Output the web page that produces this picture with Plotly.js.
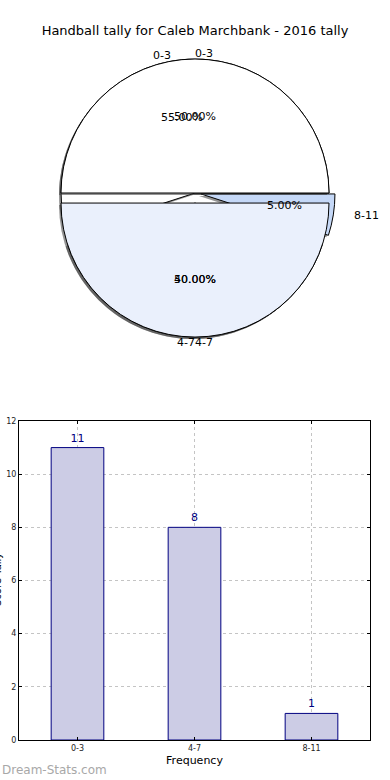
<!DOCTYPE html>
<html><head><meta charset="utf-8">
<script src="https://cdn.plot.ly/plotly-3.0.1.min.js"></script>
<style>html,body{margin:0;padding:0;background:#fff}#chart{width:390px;height:780px}</style>
</head><body><div id="chart"></div>
<script>
// ---- data ----
var categories = ['0-3', '4-7', '8-11'];
var tally = [11, 8, 1];
var catsB = ['0-3', '4-7'];
var tallyB = [10, 10];
var yTicks = [0, 2, 4, 6, 8, 10, 12];

var W = 390, H = 780, FONT = 'DejaVu Sans, Arial, sans-serif';
function sum(a){return a.reduce(function(s,v){return s+v;},0);}
// matplotlib-style start: first slice begins at 3 o'clock, counterclockwise
function rot(vals){return 90 - 360*vals[0]/sum(vals);}

// pie geometry (pixels)
var cx = 195, cy = 193, R = 134;     // drawn pie
var tRx = 141, tRy = 127;            // text placement radii
var pullA = [0, 0.075, 0.045], pullB = [0, 0.075];
function dom(pulls, dx, dy){
  var mp = Math.max.apply(null, pulls);
  var half = R*(1+mp);
  var x0 = cx+dx-half, x1 = cx+dx+half, y0 = cy+dy-half, y1 = cy+dy+half;
  return {x:[x0/W, x1/W], y:[1-y1/H, 1-y0/H]};
}
var colorsA = ['#ffffff', '#eaf0fc', '#c5d8f7'];
var colorsB = ['#ffffff', '#eaf0fc'];
var shadowCol = 'rgba(60,60,60,0.55)';
function grey(n){var a=[];for(var i=0;i<n;i++)a.push(shadowCol);return a;}

function pie(labels, vals, pulls, colors, opts){
  return {
    type:'pie', labels:labels, values:vals, pull:pulls, sort:false,
    direction:'counterclockwise', rotation:rot(vals), showlegend:false,
    hoverinfo:'skip', domain:dom(pulls, opts.dx||0, opts.dy||0),
    marker:{colors:colors, line:{color:'#000', width:opts.lw===undefined?1:opts.lw}},
    textinfo:'none'
  };
}

// text annotations placed like matplotlib's pie (labels at 1.1, pct at 0.6)
var annos = [];
function pieTexts(labels, vals, pulls, vertSide){
  var tot = sum(vals), t1 = 0;
  for(var i=0;i<vals.length;i++){
    var frac = vals[i]/tot, t2 = t1 + frac;
    var th = 2*Math.PI*0.5*(t1+t2);
    var c = Math.cos(th), s = Math.sin(th);
    var side = Math.abs(c) < 1e-9 ? vertSide(s) : (c > 0 ? 'left' : 'right');
    var ox = cx + pulls[i]*R*c, oy = cy - pulls[i]*R*s;
    annos.push({text:labels[i], xref:'paper', yref:'paper',
      x:(ox + 1.1*tRx*c)/W, y:1-(oy - 1.1*tRy*s)/H,
      xanchor: side, xshift: side === 'left' ? -2 : 2, yanchor:'middle', showarrow:false,
      font:{family:FONT, size:11, color:'#000'}});
    annos.push({text:(100*frac).toFixed(2)+'%', xref:'paper', yref:'paper',
      x:(ox + 0.6*tRx*c)/W, y:1-(oy - 0.6*tRy*s)/H,
      xanchor:'center', yanchor:'middle', showarrow:false,
      font:{family:FONT, size:11, color:'#000'}});
    t1 = t2;
  }
}
pieTexts(categories, tally, pullA, function(s){return 'left';});
pieTexts(catsB, tallyB, pullB, function(s){return s > 0 ? 'left' : 'right';});

var traces = [
  pie(categories, tally, pullA, grey(3), {dx:-2, dy:2, lw:0}),
  pie(categories, tally, pullA, colorsA, {}),
  pie(catsB, tallyB, pullB, grey(2), {dx:-2, dy:2, lw:0}),
  pie(catsB, tallyB, pullB, colorsB, {}),
  {
    type:'bar', x:categories, y:tally, width:0.45,
    marker:{color:'#ccccE5', line:{color:'#000080', width:1}},
    text:tally.map(String), textposition:'outside', cliponaxis:false,
    textfont:{family:FONT, size:11, color:'#000080'},
    hoverinfo:'skip', showlegend:false
  }
];

annos.push(
  {text:'Score Tally', textangle:-90, xref:'paper', yref:'paper', x:0, y:1-580/H,
   xanchor:'center', yanchor:'middle', xshift:-3, showarrow:false,
   font:{family:FONT, size:10, color:'#000'}},
  {text:'Dream-Stats.com', xref:'paper', yref:'paper', x:0, y:1-770/H,
   xanchor:'left', yanchor:'middle', showarrow:false,
   font:{family:FONT, size:12, color:'#a8a8a8'}}
);

var axCommon = {
  showline:true, linecolor:'#000', linewidth:1, mirror:'ticks',
  ticks:'inside', ticklen:3, tickcolor:'#000',
  showgrid:true, gridcolor:'#c4c4c4', griddash:'dot', gridwidth:1,
  zeroline:false, tickfont:{family:FONT, size:8, color:'#222'}
};
var layout = {
  width:W, height:H, margin:{l:0,r:0,t:0,b:0},
  paper_bgcolor:'#fff', plot_bgcolor:'#fff',
  font:{family:FONT},
  title:{text:'Handball tally for Caleb Marchbank - 2016 tally', x:0.5, xanchor:'center',
         y:1-30/H, yref:'container', yanchor:'middle', font:{family:FONT, size:13, color:'#000'}},
  xaxis:Object.assign({}, axCommon, {
    domain:[19/W, 370/W], anchor:'y', type:'category', range:[-0.5, 2.5],
    title:{text:'Frequency', font:{family:FONT, size:11, color:'#000'}, standoff:4}
  }),
  yaxis:Object.assign({}, axCommon, {
    domain:[1-740/H, 1-421/H], anchor:'x', range:[0, 12], tickvals:yTicks,
    ticktext:yTicks.map(String)
  }),
  annotations:annos
};
Plotly.newPlot('chart', traces, layout, {staticPlot:true, displayModeBar:false});
</script></body></html>
